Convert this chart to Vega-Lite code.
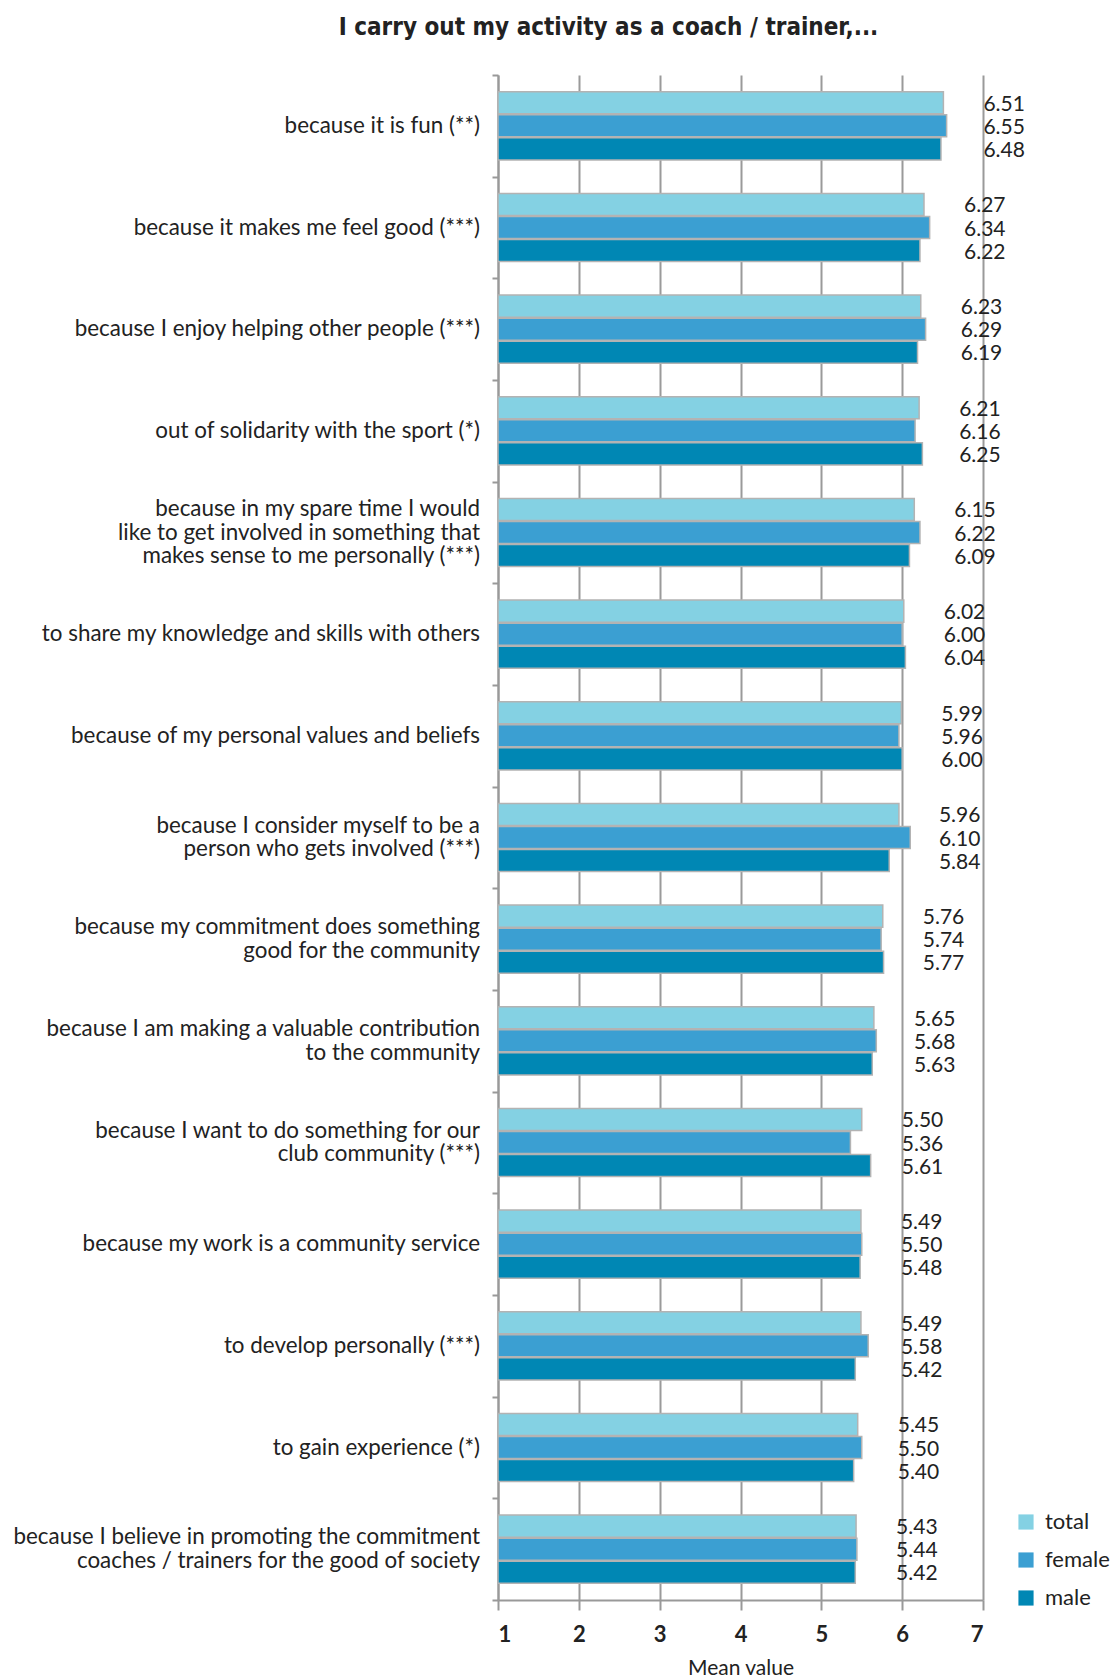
{
  "$schema": "https://vega.github.io/schema/vega-lite/v6.json",
  "autosize": {"type": "none"},
  "width": 485,
  "height": 1525,
  "padding": {"left": 498, "top": 75, "right": 134, "bottom": 77},
  "background": "white",
  "config": {
    "font": "Lato",
    "view": {"stroke": null}
  },
  "title": {
    "text": "I carry out my activity as a coach / trainer,...",
    "font": "DejaVu Sans Condensed",
    "fontSize": 24,
    "fontWeight": "bold",
    "color": "#222222",
    "anchor": "middle",
    "offset": 34,
    "dx": -132
  },
  "data": {
    "values": [
      {"cat": "because it is fun (**)", "total": 6.51, "female": 6.55, "male": 6.48},
      {"cat": "because it makes me feel good (***)", "total": 6.27, "female": 6.34, "male": 6.22},
      {"cat": "because I enjoy helping other people (***)", "total": 6.23, "female": 6.29, "male": 6.19},
      {"cat": "out of solidarity with the sport (*)", "total": 6.21, "female": 6.16, "male": 6.25},
      {"cat": "because in my spare time I would|like to get involved in something that|makes sense to me personally (***)", "total": 6.15, "female": 6.22, "male": 6.09},
      {"cat": "to share my knowledge and skills with others", "total": 6.02, "female": 6.00, "male": 6.04},
      {"cat": "because of my personal values and beliefs", "total": 5.99, "female": 5.96, "male": 6.00},
      {"cat": "because I consider myself to be a|person who gets involved (***)", "total": 5.96, "female": 6.10, "male": 5.84},
      {"cat": "because my commitment does something|good for the community", "total": 5.76, "female": 5.74, "male": 5.77},
      {"cat": "because I am making a valuable contribution|to the community", "total": 5.65, "female": 5.68, "male": 5.63},
      {"cat": "because I want to do something for our|club community (***)", "total": 5.50, "female": 5.36, "male": 5.61},
      {"cat": "because my work is a community service", "total": 5.49, "female": 5.50, "male": 5.48},
      {"cat": "to develop personally (***)", "total": 5.49, "female": 5.58, "male": 5.42},
      {"cat": "to gain experience (*)", "total": 5.45, "female": 5.50, "male": 5.40},
      {"cat": "because I believe in promoting the commitment|coaches / trainers for the good of society", "total": 5.43, "female": 5.44, "male": 5.42}
    ]
  },
  "transform": [
    {"fold": ["total", "female", "male"], "as": ["series", "value"]}
  ],
  "encoding": {
    "y": {
      "field": "cat",
      "type": "nominal",
      "sort": null,
      "scale": {"paddingInner": 0, "paddingOuter": 0},
      "axis": {
        "title": null,
        "labels": false,
        "tickBand": "extent",
        "tickSize": 6,
        "tickColor": "#999999",
        "tickWidth": 2,
        "domainColor": "#999999",
        "domainWidth": 2,
        "grid": false
      }
    }
  },
  "layer": [
    {
      "mark": {"type": "bar", "stroke": "#b3b3b3", "strokeWidth": 1.5},
      "encoding": {
        "yOffset": {
          "field": "series",
          "type": "nominal",
          "sort": ["total", "female", "male"],
          "scale": {"paddingOuter": 0.73, "paddingInner": 0.04}
        },
        "x": {
          "field": "value",
          "type": "quantitative",
          "scale": {"domain": [1, 7], "nice": false, "zero": false},
          "axis": {
            "title": "Mean value",
            "titleFontSize": 21,
            "titleFontWeight": "normal",
            "titleColor": "#222222",
            "titlePadding": 12,
            "values": [1, 2, 3, 4, 5, 6, 7],
            "format": "d",
            "labelFontSize": 22,
            "labelFontWeight": "bold",
            "labelColor": "#222222",
            "labelPadding": 14,
            "tickSize": 10,
            "tickColor": "#999999",
            "tickWidth": 2,
            "domainColor": "#999999",
            "domainWidth": 2,
            "grid": true,
            "gridColor": "#9a9a9a",
            "gridWidth": 2
          }
        },
        "x2": {"datum": 1},
        "color": {
          "field": "series",
          "type": "nominal",
          "sort": ["total", "female", "male"],
          "scale": {"domain": ["total", "female", "male"], "range": ["#84d1e3", "#3b9fd2", "#0087b4"]},
          "legend": {
            "title": null,
            "orient": "none",
            "legendX": 517,
            "legendY": 1436,
            "symbolType": "square",
            "symbolSize": 230,
            "symbolStrokeWidth": 0,
            "labelFontSize": 22,
            "labelColor": "#222222",
            "labelOffset": 8,
            "rowPadding": 16
          }
        }
      }
    },
    {
      "mark": {"type": "text", "align": "left", "baseline": "middle", "dx": 40, "dy": 2, "fontSize": 21, "color": "#222222"},
      "encoding": {
        "yOffset": {
          "field": "series",
          "type": "nominal",
          "sort": ["total", "female", "male"]
        },
        "x": {"field": "total", "type": "quantitative"},
        "text": {"field": "value", "type": "quantitative", "format": ".2f"}
      }
    },
    {
      "transform": [{"filter": "datum.series === 'total'"}],
      "mark": {
        "type": "text",
        "align": "right",
        "baseline": "middle",
        "dx": -18,
        "dy": {"expr": "-(length(split(datum.cat, '|')) - 1) * 11.75"},
        "fontSize": 22.4,
        "lineBreak": "|",
        "lineHeight": 23.5,
        "color": "#222222"
      },
      "encoding": {
        "x": {"datum": 1},
        "text": {"field": "cat", "type": "nominal"}
      }
    }
  ]
}
